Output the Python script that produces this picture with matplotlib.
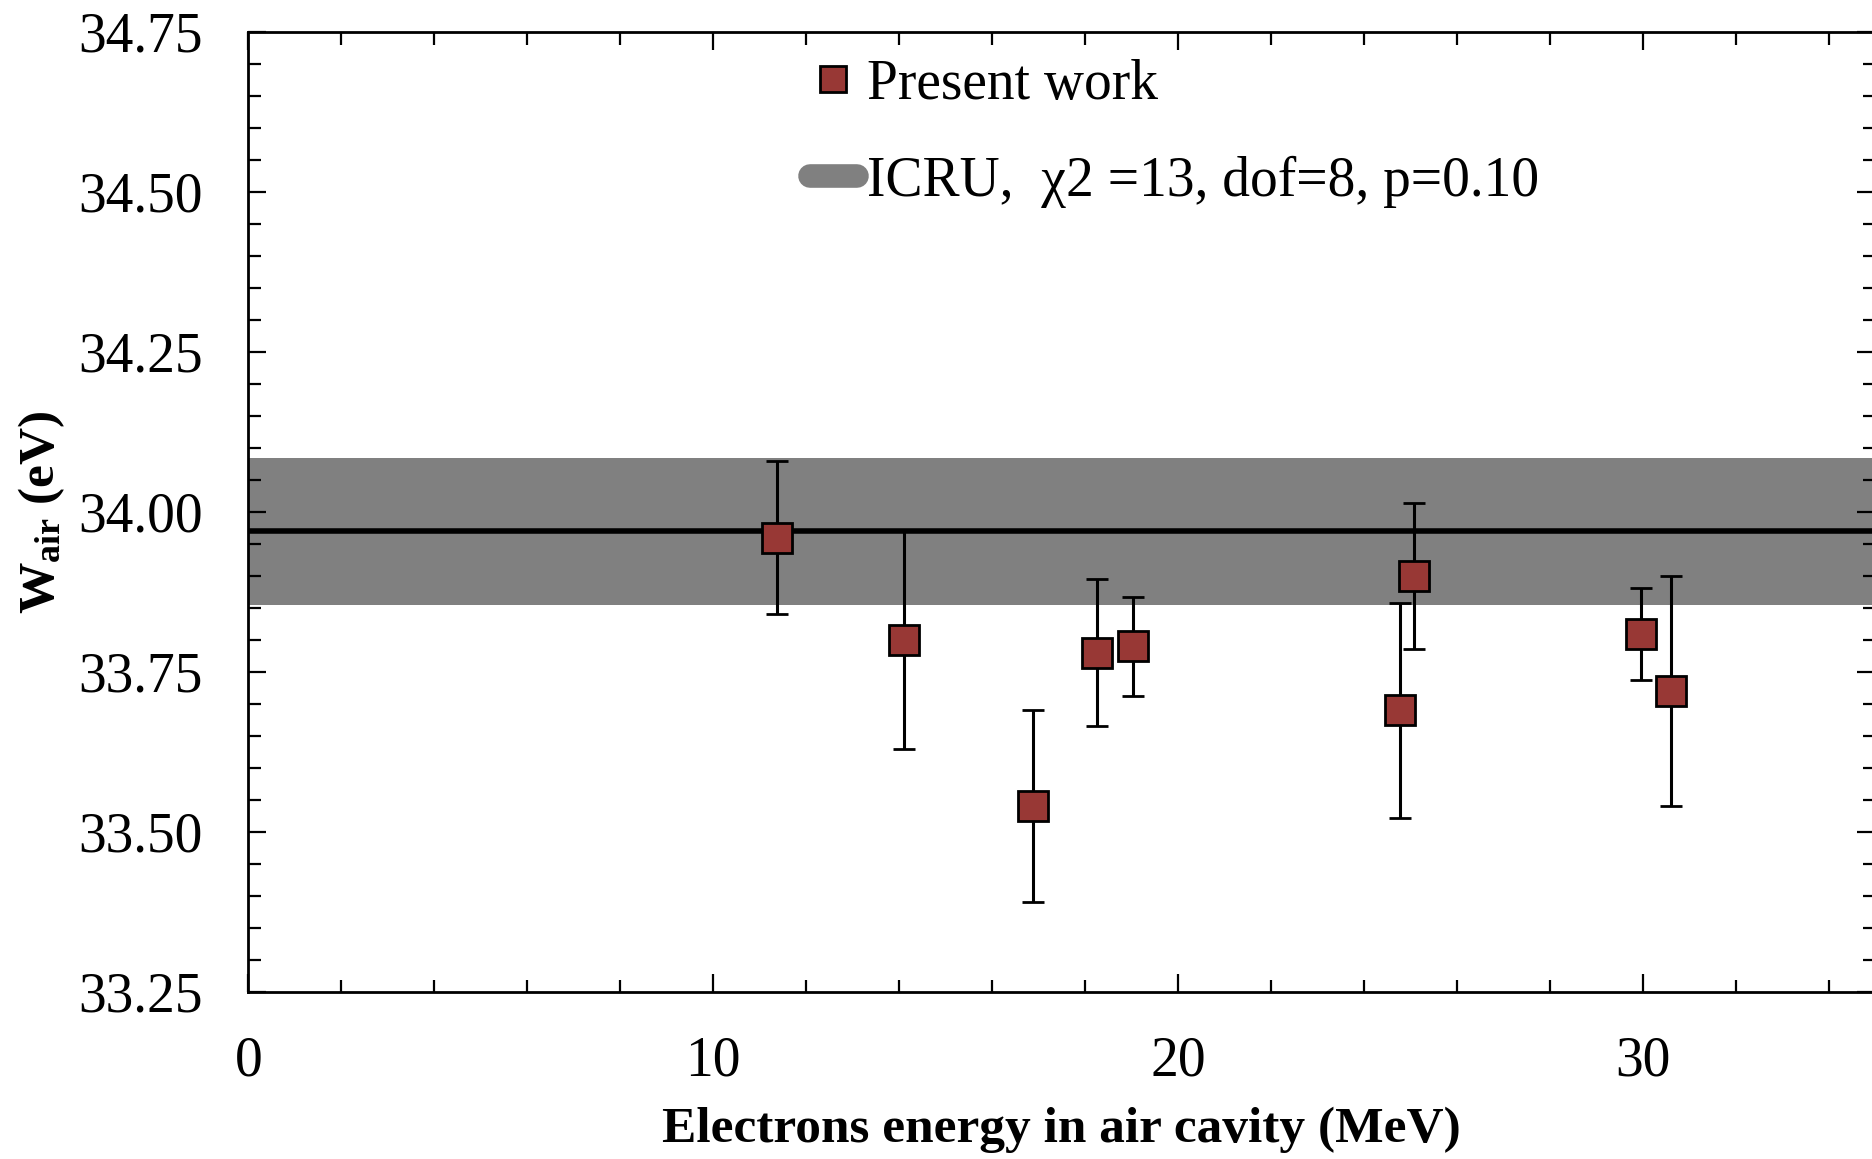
import matplotlib
matplotlib.use("Agg")
import matplotlib.pyplot as plt
from matplotlib.lines import Line2D
from matplotlib.ticker import MultipleLocator, FixedLocator

# Measured W_air values vs. mean electron energy in the air cavity
energy_mev = [11.37, 14.10, 16.88, 18.25, 19.03, 24.78, 25.09, 29.96, 30.60]
w_air_ev = [33.96, 33.80, 33.54, 33.78, 33.79, 33.69, 33.90, 33.81, 33.72]
w_air_err = [0.12, 0.17, 0.15, 0.115, 0.077, 0.168, 0.114, 0.072, 0.18]

# ICRU reference value and its uncertainty band
icru_value = 33.97
icru_unc = 0.115

x_ticks = [0, 10, 20, 30]
y_ticks = [33.25, 33.50, 33.75, 34.00, 34.25, 34.50, 34.75]

plt.rcParams["font.family"] = ["Liberation Serif", "DejaVu Serif"]
plt.rcParams["mathtext.fontset"] = "custom"
plt.rcParams["mathtext.rm"] = "Liberation Serif"
plt.rcParams["mathtext.bf"] = "Liberation Serif:bold"

W, H = 1872, 1159
fig = plt.figure(figsize=(W / 100, H / 100), dpi=100)
ax = fig.add_axes([248.3 / W, 1 - 992 / H, (1875 - 248.3) / W, 960 / H])

ax.set_xlim(0, 35)
ax.set_ylim(33.25, 34.75)

band_color = "#808080"
ax.axhspan(icru_value - icru_unc, icru_value + icru_unc, color=band_color, lw=0, zorder=1)
ax.axhline(icru_value, color="black", lw=4, zorder=2)

ax.errorbar(energy_mev, w_air_ev, yerr=w_air_err, fmt="s", ms=21,
            mfc="#983835", mec="black", mew=2, ecolor="black", elinewidth=2.2,
            capsize=8, capthick=3, zorder=3)

ax.xaxis.set_major_locator(FixedLocator(x_ticks))
ax.xaxis.set_minor_locator(MultipleLocator(2))
ax.yaxis.set_major_locator(FixedLocator(y_ticks))
ax.yaxis.set_minor_locator(MultipleLocator(0.05))
ax.set_yticklabels([f"{v:.2f}" for v in y_ticks])

ax.tick_params(which="both", direction="in", top=True, right=True, width=1.6, colors="black")
ax.tick_params(which="major", length=13)
ax.tick_params(which="minor", length=9)
ax.tick_params(axis="x", which="major", labelsize=40, pad=31)
ax.tick_params(axis="y", which="major", labelsize=40, pad=33)

for s in ax.spines.values():
    s.set_linewidth(2)

ax.set_xlabel("Electrons energy in air cavity (MeV)", fontsize=37, fontweight="bold")
ax.xaxis.set_label_coords(0.5, -0.144)
ax.xaxis.label.set_va("center")
ax.set_ylabel(r"$\mathbf{W_{air}}$ (eV)", fontsize=37, fontweight="bold")
ax.yaxis.set_label_coords(-0.127, 0.5)
ax.yaxis.label.set_va("center")

handles = [
    Line2D([], [], ls="none", marker="s", ms=19, mfc="#983835", mec="black", mew=2),
    Line2D([], [], color=band_color, lw=17, solid_capstyle="round"),
]
labels = ["Present work", "ICRU,  \u03c72 =13, dof=8, p=0.10"]
ax.legend(handles, labels, loc="upper left", bbox_to_anchor=(0.345, 0.972),
          frameon=False, fontsize=40, labelspacing=0.8, handlelength=0.86,
          handletextpad=0.17, borderaxespad=0, borderpad=0)

fig.savefig("out.png", dpi=100)
